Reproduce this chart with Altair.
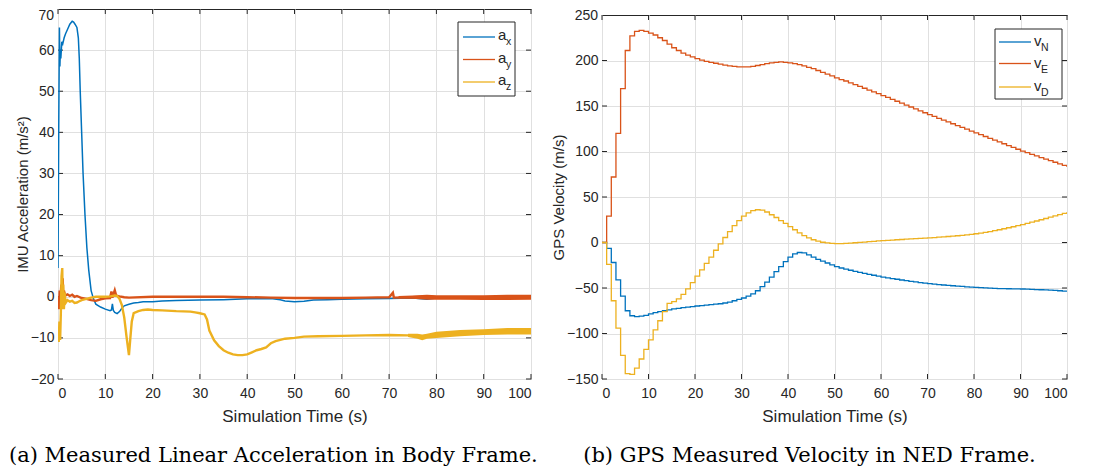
import altair as alt
import pandas as pd

# ---------------- data: (a) IMU linear acceleration ----------------
ax_t = [0, 0.15, 0.3, 0.4, 0.5, 0.6, 0.8, 1.0, 1.3, 1.6, 2.0, 2.5, 3.0, 3.3, 3.6, 4.0, 4.3, 4.5, 4.7,
        5.0, 5.3, 5.7, 6.1, 6.5, 7.0, 7.5, 8.0, 9.0, 10.0, 11.0, 11.3, 11.5, 11.7, 12.0, 12.5, 13.0,
        13.5, 14.0, 15.0, 16, 17, 18, 20, 22, 25, 30, 35, 40, 45, 47, 48, 50, 52, 54, 57, 60, 65, 70,
        75, 78, 80, 85, 90, 95, 100]
ax_v = [7, 40, 65.5, 56, 60, 58, 62, 61.5, 63, 64, 65, 66.3, 67, 66.8, 66.3, 65.5, 63, 58, 50,
        40, 30, 20, 12, 6.5, 1.5, -0.5, -1.8, -2.5, -3, -3.4, -3.2, -1.7, -3.3, -3.8, -4.1, -3.6,
        -2.8, -2.2, -1.8, -1.5, -1.4, -1.2, -1.2, -1.0, -0.9, -0.8, -0.7, -0.5, -0.4, -0.7, -1.0, -1.2,
        -1.1, -0.8, -0.7, -0.6, -0.5, -0.4, -0.3, -0.6, -0.3, -0.3, -0.2, -0.3, -0.3]

ay_t = [0, 0.2, 0.35, 0.5, 0.7, 0.85, 1.0, 1.1, 1.25, 1.5, 2, 2.5, 3, 3.5, 4, 5, 6, 7, 8, 9, 10,
        11, 11.3, 11.5, 12, 12.3, 13, 14, 15, 20, 25, 30, 35, 40, 45, 50, 55, 60, 65, 70, 70.8, 71,
        75, 78, 80, 85, 90, 95, 100]
ay_v = [0, -3, 1.5, -1, 3, 1, 4.5, -0.5, 1.5, 0.3, 0.6, 0.2, 0.5, 0, 0.2, -0.3, -0.5, -0.8, -1.0,
        -0.6, -0.4, -0.3, 1.3, -0.2, 1.6, 0.3, 0.1, -0.1, -0.2, 0, 0, 0, 0, -0.1, -0.2, -0.3, -0.3,
        -0.3, -0.2, -0.1, 1.0, -0.2, -0.1, 0.0, -0.1, -0.2, -0.2, -0.1, 0]

az_t = [0, 0.15, 0.3, 0.45, 0.6, 0.75, 0.9, 1.0, 1.1, 1.25, 1.4, 1.6, 2, 2.5, 3, 3.5, 4, 4.5, 5, 6,
        7, 8, 9, 10, 11, 12, 12.5, 13, 13.5, 14, 14.5, 15, 15.3, 15.6, 16, 17, 18, 19, 20, 22, 25,
        28, 29, 30, 31, 31.5, 32, 33, 34, 35, 36, 37, 38, 39, 40, 41, 42, 43, 44, 44.5, 45, 46, 47,
        48, 50, 52, 55, 60, 65, 70, 74, 76, 77, 78, 80, 85, 90, 95, 100]
az_v = [-8, -11, -6, -10.5, -4, 5, 7, -3, 3, -3, 1, -1.5, -0.8, -1.2, -1, -1.5, -1.4, -1.1, -0.8,
        -0.5, -0.2, 0, 0, 0, 0.1, 0.3, 0.2, -0.5, -2, -5, -9.8, -14.2, -10, -6, -4, -3.5, -3.2, -3.1,
        -3.2, -3.3, -3.5, -3.6, -3.8, -4.0, -4.3, -5.5, -8.2, -10.6, -12, -13, -13.6, -14, -14.2,
        -14.2, -14, -13.5, -13, -12.7, -12.3, -11.8, -11.3, -10.8, -10.5, -10.2, -10, -9.7, -9.6,
        -9.5, -9.4, -9.3, -9.4, -9.5, -10.0, -9.6, -9.2, -8.9, -8.6, -8.5, -8.5]

# visible noise envelopes (upper / lower edge of the thick noisy traces)
ay_band_t = [72, 75, 78, 80, 85, 90, 95, 100]
ay_band_lo = [-0.4, -0.5, -0.7, -0.7, -0.7, -0.8, -0.8, -0.7]
ay_band_hi = [0.2, 0.3, 0.5, 0.4, 0.4, 0.4, 0.5, 0.5]
az_band_t = [74, 76, 77, 78, 80, 85, 90, 95, 100]
az_band_lo = [-9.8, -10.2, -10.6, -10.2, -10.0, -9.6, -9.3, -9.2, -9.2]
az_band_hi = [-9.0, -9.0, -9.2, -9.0, -8.5, -8.1, -7.9, -7.6, -7.6]

# ---------------- data: (b) GPS velocity, 1 Hz samples ----------------
gps_t = list(range(0, 101))
vN = [0, -6.5, -22, -41, -59, -75, -80.5, -81.5, -81, -80,
      -78.5, -77, -76, -75, -74, -73, -72.3, -71.6, -71, -70.4,
      -69.8, -69.3, -68.8, -68.3, -67.8, -67.3, -66.5, -65.5, -64, -62.5,
      -61, -59, -56.5, -53, -48.5, -43.5, -38, -32, -26.5, -21,
      -16, -12.5, -11, -11.5, -13.5, -16, -18.5, -20.5, -22.5, -24.5,
      -26.5, -28, -29.3, -30.5, -31.7, -32.8, -33.9, -35, -36, -37,
      -38, -38.8, -39.6, -40.4, -41.2, -42, -42.7, -43.3, -44, -44.6,
      -45.2, -45.7, -46.2, -46.7, -47.1, -47.5, -47.9, -48.3, -48.7, -49,
      -49.3, -49.6, -49.9, -50.2, -50.4, -50.6, -50.7, -50.8, -50.9, -51,
      -51.1, -51.3, -51.5, -51.7, -51.9, -52.1, -52.4, -52.7, -53, -53.4, -53.8]
vE = [0, 29, 72, 120, 169, 211, 227, 232, 233, 232,
      230, 228, 225, 222, 218, 214, 211, 208, 206, 204,
      202, 200.5, 199, 198, 197, 196, 195, 194, 193.5, 193,
      193, 193, 193.5, 194.5, 195.5, 196.5, 197.5, 198, 198.5, 198,
      197.5, 196.5, 195.5, 194, 192.5, 191, 189, 187, 185, 183,
      181, 179, 177.5, 175.5, 173.5, 171.5, 169.5, 167.5, 165.5, 163.5,
      161.5, 159.4, 157.3, 155.2, 153.1, 151, 148.9, 146.8, 144.7, 142.6,
      140.5, 138.5, 136.5, 134.5, 132.5, 130.5, 128.5, 126.5, 124.5, 122.5,
      120.5, 118.5, 116.5, 114.5, 112.5, 110.5, 108.5, 106.5, 104.5, 102.5,
      100.5, 98.7, 96.9, 95.1, 93.3, 91.6, 89.9, 88.2, 86.5, 84.8, 83]
vD = [0, -24, -64, -94, -124, -144, -145, -138, -128, -117.5,
      -107, -96, -86, -76, -67, -65, -62, -57, -51, -44,
      -37, -30, -23, -16, -8.5, -1.5, 5.5, 12, 18.5, 24,
      29, 32.5, 35, 36, 35.5, 33.5, 30.5, 27.5, 24, 21,
      17.5, 14, 10.5, 7.5, 5, 3, 1.5, 0.3, -0.5, -1,
      -1.2, -1.2, -1, -0.7, -0.3, 0.1, 0.5, 0.9, 1.3, 1.7,
      2.1, 2.4, 2.7, 3, 3.3, 3.6, 3.9, 4.2, 4.5, 4.8,
      5.1, 5.4, 5.8, 6.2, 6.6, 7, 7.4, 7.9, 8.4, 9,
      9.6, 10.3, 11.1, 12, 13, 14, 15.1, 16.2, 17.3, 18.5,
      19.7, 21, 22.3, 23.6, 25, 26.4, 27.8, 29.2, 30.6, 32.1, 33.6]

# ---------------- ticks / labels ----------------
x_ticks = [0, 10, 20, 30, 40, 50, 60, 70, 80, 90, 100]
acc_y_ticks = [-20, -10, 0, 10, 20, 30, 40, 50, 60]
acc_top_label = [70]
gps_y_ticks = [-150, -100, -50, 0, 50, 100, 150, 200]
gps_top_label = [250]

acc_names = ["a", "a", "a"]
acc_subs = ["x", "y", "z"]
gps_names = ["v", "v", "v"]
gps_subs = ["N", "E", "D"]
colors = ["#0072BD", "#D95319", "#EDB120"]

caption_a = "(a) Measured Linear Acceleration in Body Frame."
caption_b = "(b) GPS Measured Velocity in NED Frame."

SANS = "Liberation Sans"
SERIF = "DejaVu Serif"
DARK = "#262626"
GRID = "#e0e0e0"

W1, H1 = 473, 370
W2, H2 = 465, 364


def enc_x(title):
    return alt.X("t:Q", scale=alt.Scale(domain=[0, 100], nice=False, zero=False),
                 axis=alt.Axis(values=x_ticks, title=title))


def enc_y(title, domain, ticks):
    return alt.Y("v:Q", scale=alt.Scale(domain=domain, nice=False, zero=False),
                 axis=alt.Axis(values=ticks, title=title))


def series(t, v, color, sw, X, Y, interp="linear"):
    df = pd.DataFrame({"t": t, "v": v})
    return alt.Chart(df).mark_line(color=color, strokeWidth=sw, interpolate=interp,
                                   clip=True).encode(x=X, y=Y)


def band(t, lo, hi, color, X, Y):
    df = pd.DataFrame({"t": t, "v": lo, "v2": hi})
    return alt.Chart(df).mark_area(color=color, opacity=1, clip=True).encode(
        x=X, y=Y, y2=alt.Y2("v2:Q"))


def inner_ticks(X, Y, yt, W, H):
    xdf = pd.DataFrame({"t": x_ticks})
    ydf = pd.DataFrame({"v": yt})
    m = dict(color=DARK, strokeWidth=1)
    return [
        alt.Chart(xdf).mark_rule(**m).encode(x=X, y=alt.value(H - 5), y2=alt.value(H)),
        alt.Chart(xdf).mark_rule(**m).encode(x=X, y=alt.value(0), y2=alt.value(5)),
        alt.Chart(ydf).mark_rule(**m).encode(y=Y, x=alt.value(0), x2=alt.value(5)),
        alt.Chart(ydf).mark_rule(**m).encode(y=Y, x=alt.value(W - 5), x2=alt.value(W)),
    ]


def top_label(vals, Y, dy):
    return alt.Chart(pd.DataFrame({"v": vals})).mark_text(
        align="right", baseline="top", font=SANS, fontSize=14, color=DARK, dy=dy).encode(
        y=Y, x=alt.value(-4), text=alt.Text("v:Q"))


def legend(W, box, rows, names, subs, main_dx, sub_dx, main_dy, sub_dy):
    one = pd.DataFrame({"k": [0]})
    out = [alt.Chart(one).mark_rect(fill="white", stroke=DARK, strokeWidth=1).encode(
        x=alt.value(W - box[0]), x2=alt.value(W - box[1]),
        y=alt.value(box[2]), y2=alt.value(box[3]))]
    for ry, nm, sb, c in zip(rows, names, subs, colors):
        out.append(alt.Chart(one).mark_rule(color=c, strokeWidth=1.3).encode(
            x=alt.value(W - 68), x2=alt.value(W - 36), y=alt.value(ry)))
        out.append(alt.Chart(one).mark_text(align="left", baseline="middle", font=SANS,
                                            fontSize=15, color=DARK).encode(
            x=alt.value(W - main_dx), y=alt.value(ry + main_dy), text=alt.value(nm)))
        out.append(alt.Chart(one).mark_text(align="left", baseline="middle", font=SANS,
                                            fontSize=10.5, color=DARK).encode(
            x=alt.value(W - sub_dx), y=alt.value(ry + sub_dy), text=alt.value(sb)))
    return out


def caption(text):
    return alt.TitleParams(text=text, orient="bottom", anchor="middle", frame="bounds",
                           font=SERIF, fontSize=21, fontWeight="normal", color="black",
                           offset=21)


# ---------------- panel (a) ----------------
Xa = enc_x("Simulation Time (s)")
Ya = enc_y("IMU Acceleration (m/s²)", [-20, 70], acc_y_ticks)

panel_a = alt.layer(
    *inner_ticks(Xa, Ya, acc_y_ticks, W1, H1),
    series(ax_t, ax_v, colors[0], 1.5, Xa, Ya),
    band(ay_band_t, ay_band_lo, ay_band_hi, colors[1], Xa, Ya),
    series(ay_t, ay_v, colors[1], 2.4, Xa, Ya),
    band(az_band_t, az_band_lo, az_band_hi, colors[2], Xa, Ya),
    series(az_t, az_v, colors[2], 2.4, Xa, Ya),
    top_label(acc_top_label, Ya, 0),
    *legend(W1, (73, 16, 13, 87), [28, 50.5, 73], acc_names, acc_subs, 33, 25, -2, 5),
).properties(width=W1, height=H1, title=caption(caption_a))

# ---------------- panel (b) ----------------
Xb = enc_x("Simulation Time (s)")
Yb = enc_y("GPS Velocity (m/s)", [-150, 250], gps_y_ticks)
panel_b = alt.layer(
    *inner_ticks(Xb, Yb, gps_y_ticks, W2, H2),
    series(gps_t, vN, colors[0], 1.3, Xb, Yb, "step-after"),
    series(gps_t, vE, colors[1], 1.3, Xb, Yb, "step-after"),
    series(gps_t, vD, colors[2], 1.3, Xb, Yb, "step-after"),
    top_label(gps_top_label, Yb, -6),
    *legend(W2, (72, 5, 14, 84), [27, 48.5, 72], gps_names, gps_subs, 33, 26, -1, 6),
).properties(width=W2, height=H2, title=caption(caption_b))

# invisible spacer that lets panel (b) sit a little lower than panel (a)
spacer = alt.Chart(pd.DataFrame({"k": [0]})).mark_rect(opacity=0).encode(
    x=alt.value(0), x2=alt.value(1), y=alt.value(0), y2=alt.value(1)
).properties(width=W2, height=1, view=alt.ViewBackground(stroke="transparent"))

cell_b = alt.vconcat(spacer, panel_b, spacing=5, bounds="flush")

chart = alt.hconcat(panel_a, cell_b, spacing=11).properties(
    padding={"left": 0, "top": 0, "right": 0, "bottom": 0}
).configure_view(stroke=DARK, strokeWidth=1).configure_axis(
    labelFont=SANS, labelFontSize=14, labelColor=DARK, titleFont=SANS, titleFontSize=15,
    titleColor=DARK, titleFontWeight="normal", grid=True, gridColor=GRID, gridWidth=1,
    domain=False, ticks=False, labelPadding=4, titlePadding=0
).configure_axisX(labelPadding=7, titlePadding=8, titleFontSize=17)

chart.save("out.html", embed_options={"renderer": "svg", "actions": False})
